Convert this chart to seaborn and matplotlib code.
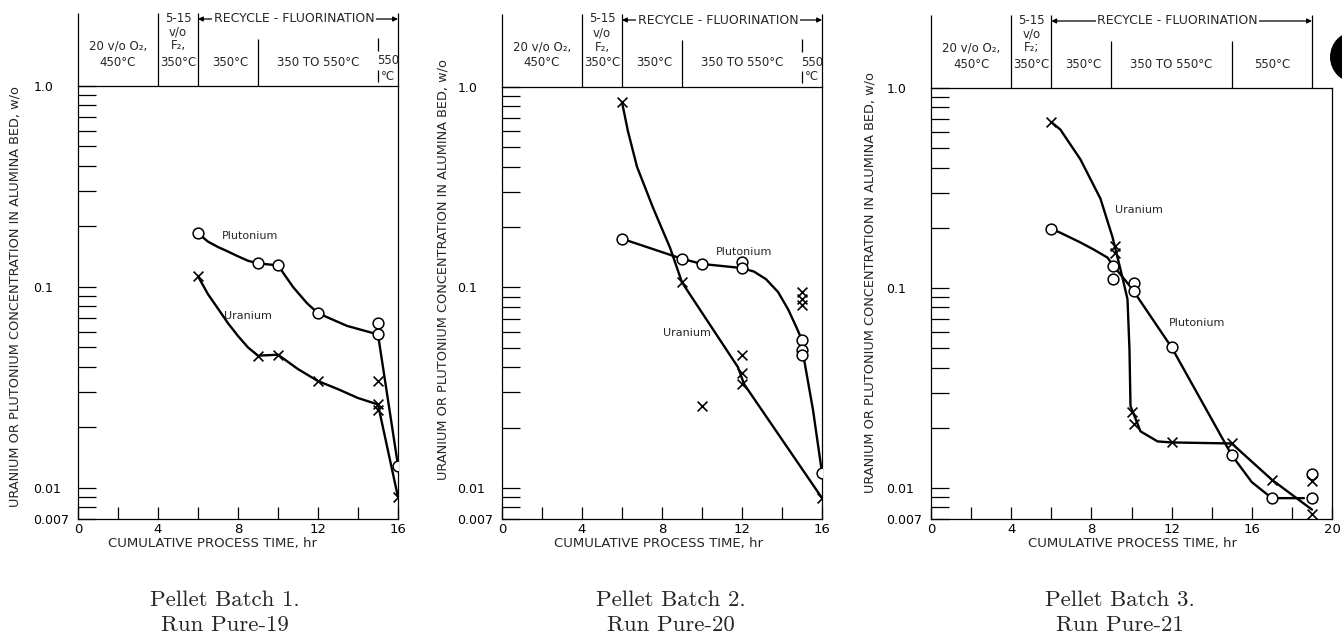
import numpy as np
import pandas as pd
import matplotlib
matplotlib.use("Agg")
import matplotlib.pyplot as plt
import seaborn as sns
from matplotlib.ticker import FixedLocator, FixedFormatter, NullLocator
from matplotlib.patches import Ellipse

sns.set_theme(style="white")
plt.rcParams["font.family"] = ["DejaVu Sans"]

# ---------------- data ----------------
# Panel 1 : Pellet Batch 1, Run Pure-19
p1_pu_t = [6, 9, 10, 12, 15, 15, 16]
p1_pu_c = [0.185, 0.131, 0.128, 0.074, 0.066, 0.058, 0.0129]
p1_u_t = [6, 9, 10, 12, 15, 15, 15, 16]
p1_u_c = [0.113, 0.0455, 0.046, 0.034, 0.034, 0.026, 0.0245, 0.009]
p1_pu_curve_t = [6, 6.5, 7, 7.5, 8, 8.5, 9, 10, 10.75, 11.45, 12, 13.45, 15, 16]
p1_pu_curve_c = [0.185, 0.168, 0.158, 0.150, 0.142, 0.135, 0.131, 0.128, 0.100, 0.083, 0.074, 0.064, 0.058, 0.0129]
p1_u_curve_t = [6, 6.5, 7, 7.5, 8, 8.5, 9, 10, 11, 12, 13, 14, 15, 16]
p1_u_curve_c = [0.113, 0.092, 0.078, 0.066, 0.057, 0.050, 0.0455, 0.046, 0.039, 0.034, 0.031, 0.028, 0.026, 0.009]

# Panel 2 : Pellet Batch 2, Run Pure-20
p2_pu_t = [6, 9, 10, 12, 12, 15, 15, 15, 16]
p2_pu_c = [0.175, 0.139, 0.131, 0.134, 0.125, 0.0547, 0.049, 0.046, 0.0119]
p2_u_t = [6, 9, 10, 12, 12, 12, 15, 15, 15, 16]
p2_u_c = [0.84, 0.106, 0.0256, 0.046, 0.0375, 0.033, 0.095, 0.088, 0.082, 0.0089]
p2_pu_curve_t = [6, 9, 10, 12, 12.6, 13.2, 13.8, 14.3, 14.7, 15, 15.1, 15.55, 16]
p2_pu_curve_c = [0.175, 0.139, 0.131, 0.125, 0.120, 0.110, 0.095, 0.078, 0.064, 0.0547, 0.044, 0.0245, 0.0119]
p2_u_curve_t = [6, 6.3, 6.75, 7.55, 8.4, 9, 11.8, 12.1, 16]
p2_u_curve_c = [0.84, 0.60, 0.40, 0.25, 0.158, 0.106, 0.040, 0.033, 0.0089]

# Panel 3 : Pellet Batch 3, Run Pure-21
p3_pu_t = [6, 9.1, 9.1, 10.1, 10.1, 12, 15, 17, 19, 19]
p3_pu_c = [0.198, 0.129, 0.111, 0.106, 0.097, 0.0505, 0.0146, 0.0089, 0.0117, 0.0089]
p3_u_t = [6, 9.2, 9.2, 10, 10.1, 12, 15, 17, 19, 19]
p3_u_c = [0.676, 0.163, 0.149, 0.0239, 0.0208, 0.0169, 0.0167, 0.011, 0.0108, 0.0074]
p3_pu_curve_t = [6, 6.45, 7.45, 8.1, 8.8, 9.1, 10, 12, 15, 16, 17, 18.6]
p3_pu_curve_c = [0.198, 0.189, 0.169, 0.156, 0.142, 0.129, 0.100, 0.0505, 0.0146, 0.0107, 0.0089, 0.0089]
p3_u_curve_t = [6, 6.45, 7.45, 8.45, 9.05, 9.45, 9.8, 9.9, 9.95, 10.45, 11.3, 12, 15, 17, 19]
p3_u_curve_c = [0.676, 0.62, 0.44, 0.28, 0.18, 0.124, 0.088, 0.049, 0.0257, 0.0192, 0.0171, 0.0169, 0.0167, 0.011, 0.0078]

captions = ["Pellet Batch 1.\nRun Pure-19", "Pellet Batch 2.\nRun Pure-20", "Pellet Batch 3.\nRun Pure-21"]
y_ticks = [0.007, 0.008, 0.009, 0.01, 0.02, 0.03, 0.04, 0.05, 0.06, 0.07, 0.08, 0.09,
           0.1, 0.2, 0.3, 0.4, 0.5, 0.6, 0.7, 0.8, 0.9, 1.0]
y_labels = {0.007: "0.007", 0.01: "0.01", 0.1: "0.1", 1.0: "1.0"}
ylabel = "URANIUM OR PLUTONIUM CONCENTRATION IN ALUMINA BED, w/o"
xlabel = "CUMULATIVE PROCESS TIME, hr"

# ---------------- layout ----------------
W, H = 1342, 638
fig = plt.figure(figsize=(W / 100, H / 100), dpi=100)
fig.patch.set_facecolor("white")

panels = [
    dict(pu=(p1_pu_t, p1_pu_c), u=(p1_u_t, p1_u_c), puc=(p1_pu_curve_t, p1_pu_curve_c),
         uc=(p1_u_curve_t, p1_u_curve_c), left=78, right=398, top=86, bottom=519, xmax=16,
         hend=16, pu_lab=(8.6, 0.18), u_lab=(8.5, 0.072),
         ylab_x=15, ylab_y=297, xlab_x=212, cap_x=225, f2="F₂,"),
    dict(pu=(p2_pu_t, p2_pu_c), u=(p2_u_t, p2_u_c), puc=(p2_pu_curve_t, p2_pu_curve_c),
         uc=(p2_u_curve_t, p2_u_curve_c), left=502, right=822, top=87, bottom=519, xmax=16,
         hend=16, pu_lab=(12.1, 0.150), u_lab=(9.25, 0.059),
         ylab_x=443, ylab_y=270, xlab_x=658, cap_x=671, f2="F₂,"),
    dict(pu=(p3_pu_t, p3_pu_c), u=(p3_u_t, p3_u_c), puc=(p3_pu_curve_t, p3_pu_curve_c),
         uc=(p3_u_curve_t, p3_u_curve_c), left=931, right=1332, top=88, bottom=519, xmax=20,
         hend=19, pu_lab=(13.25, 0.067), u_lab=(10.35, 0.246),
         ylab_x=870, ylab_y=283, xlab_x=1132, cap_x=1120, f2="F₂;"),
]

def rect(l, r, t, b):
    return [l / W, 1 - b / H, (r - l) / W, (b - t) / H]

HS = 8.5   # header font size
LW = 0.9

for i, p in enumerate(panels):
    ax = fig.add_axes(rect(p["left"], p["right"], p["top"], p["bottom"]))
    ax.set_facecolor("white")
    df_puc = pd.DataFrame({"t": p["puc"][0], "c": p["puc"][1]})
    df_uc = pd.DataFrame({"t": p["uc"][0], "c": p["uc"][1]})
    df_pu = pd.DataFrame({"t": p["pu"][0], "c": p["pu"][1]})
    df_u = pd.DataFrame({"t": p["u"][0], "c": p["u"][1]})
    sns.lineplot(data=df_puc, x="t", y="c", ax=ax, color="black", lw=1.7,
                 sort=False, estimator=None, zorder=2)
    sns.lineplot(data=df_uc, x="t", y="c", ax=ax, color="black", lw=1.7,
                 sort=False, estimator=None, zorder=2)
    sns.scatterplot(data=df_pu, x="t", y="c", ax=ax, marker="o", s=60,
                    facecolor="white", edgecolor="black", linewidth=1.1, zorder=4)
    sns.scatterplot(data=df_u, x="t", y="c", ax=ax, marker="x", s=50,
                    color="black", linewidth=1.2, zorder=4)
    ax.set_yscale("log")
    ax.set_xlim(0, p["xmax"])
    ax.set_ylim(0.007, 1.0)
    ax.set_xlabel("")
    ax.set_ylabel("")

    ax.yaxis.set_major_locator(FixedLocator(y_ticks))
    ax.yaxis.set_major_formatter(FixedFormatter([y_labels.get(v, "") for v in y_ticks]))
    ax.yaxis.set_minor_locator(NullLocator())
    ax.tick_params(axis="y", which="major", direction="in", length=13, width=LW,
                   pad=32, labelsize=9, colors="black", left=True, right=False)
    for lab in ax.get_yticklabels():
        lab.set_horizontalalignment("left")

    ax.set_xticks(np.arange(0, p["xmax"] + 1, 4))
    ax.set_xticks(np.arange(2, p["xmax"], 4), minor=True)
    ax.tick_params(axis="x", which="both", direction="in", length=9, width=LW,
                   pad=3, labelsize=9.5, colors="black", bottom=True, top=False)
    for s in ax.spines.values():
        s.set_color("black")
        s.set_linewidth(LW)
        s.set_visible(True)

    ax.text(p["pu_lab"][0], p["pu_lab"][1], "Plutonium", fontsize=8, ha="center", va="center")
    ax.text(p["u_lab"][0], p["u_lab"][1], "Uranium", fontsize=8, ha="center", va="center")

    # header band above the plot
    hh = p["top"] - 10
    hx = fig.add_axes(rect(p["left"], p["right"], p["top"] - hh, p["top"]))
    hx.set_xlim(0, p["xmax"])
    hx.set_ylim(0, hh)
    hx.axis("off")
    full = [0, 4, 6, p["hend"]]
    hx.vlines(full, 0, 73, color="black", lw=LW, clip_on=False)
    hx.vlines([9], 0, 47, color="black", lw=LW, clip_on=False)
    if p["xmax"] == 16:
        hx.vlines([15], 35, 48, color="black", lw=LW)
        hx.vlines([15], 4, 16, color="black", lw=LW)
        hx.text(15.5, 25, "550", fontsize=HS, ha="center", va="center")
        hx.text(15.5, 10, "°C", fontsize=HS, ha="center", va="center")
    else:
        hx.vlines([15], 0, 47, color="black", lw=LW)
        hx.text(17, 24, "550°C", fontsize=HS, ha="center", va="center")
    hx.text(2, 40, "20 v/o O₂,", fontsize=HS, ha="center", va="center")
    hx.text(2, 24, "450°C", fontsize=HS, ha="center", va="center")
    hx.text(5, 68, "5-15", fontsize=HS, ha="center", va="center")
    hx.text(5, 54, "v/o", fontsize=HS, ha="center", va="center")
    hx.text(5, 40, p["f2"], fontsize=HS, ha="center", va="center")
    hx.text(5, 24, "350°C", fontsize=HS, ha="center", va="center")
    hx.text(7.6, 24, "350°C", fontsize=HS, ha="center", va="center")
    hx.text(12, 24, "350 TO 550°C", fontsize=HS, ha="center", va="center")
    mid = (6 + p["hend"]) / 2
    hx.annotate("", xy=(6, 67), xytext=(p["hend"], 67),
                arrowprops=dict(arrowstyle="<|-|>", color="black", lw=0.9,
                                mutation_scale=7, shrinkA=0, shrinkB=0))
    hx.text(mid - 0.2, 67, "RECYCLE - FLUORINATION", fontsize=9, ha="center", va="center",
            bbox=dict(facecolor="white", edgecolor="none", pad=1.0))

    fig.text(p["ylab_x"] / W, 1 - p["ylab_y"] / H, ylabel, rotation=90,
             ha="center", va="center", fontsize=9.3)
    fig.text(p["xlab_x"] / W, 1 - 543 / H, xlabel, ha="center", va="center", fontsize=9.5)
    line1, line2 = captions[i].split("\n")
    fig.text(p["cap_x"] / W, 1 - 600 / H, line1, ha="center", va="center",
             fontsize=16.5, family="cmr10")
    fig.text(p["cap_x"] / W, 1 - 625 / H, line2, ha="center", va="center",
             fontsize=16.5, family="cmr10")

# dark blemish at the top right corner of the scan
fig.add_artist(Ellipse((1356 / W, 1 - 57 / H), 52 / W, 52 / H,
                       transform=fig.transFigure, facecolor="black", edgecolor="none"))

fig.savefig("out.png", dpi=100, facecolor="white")
